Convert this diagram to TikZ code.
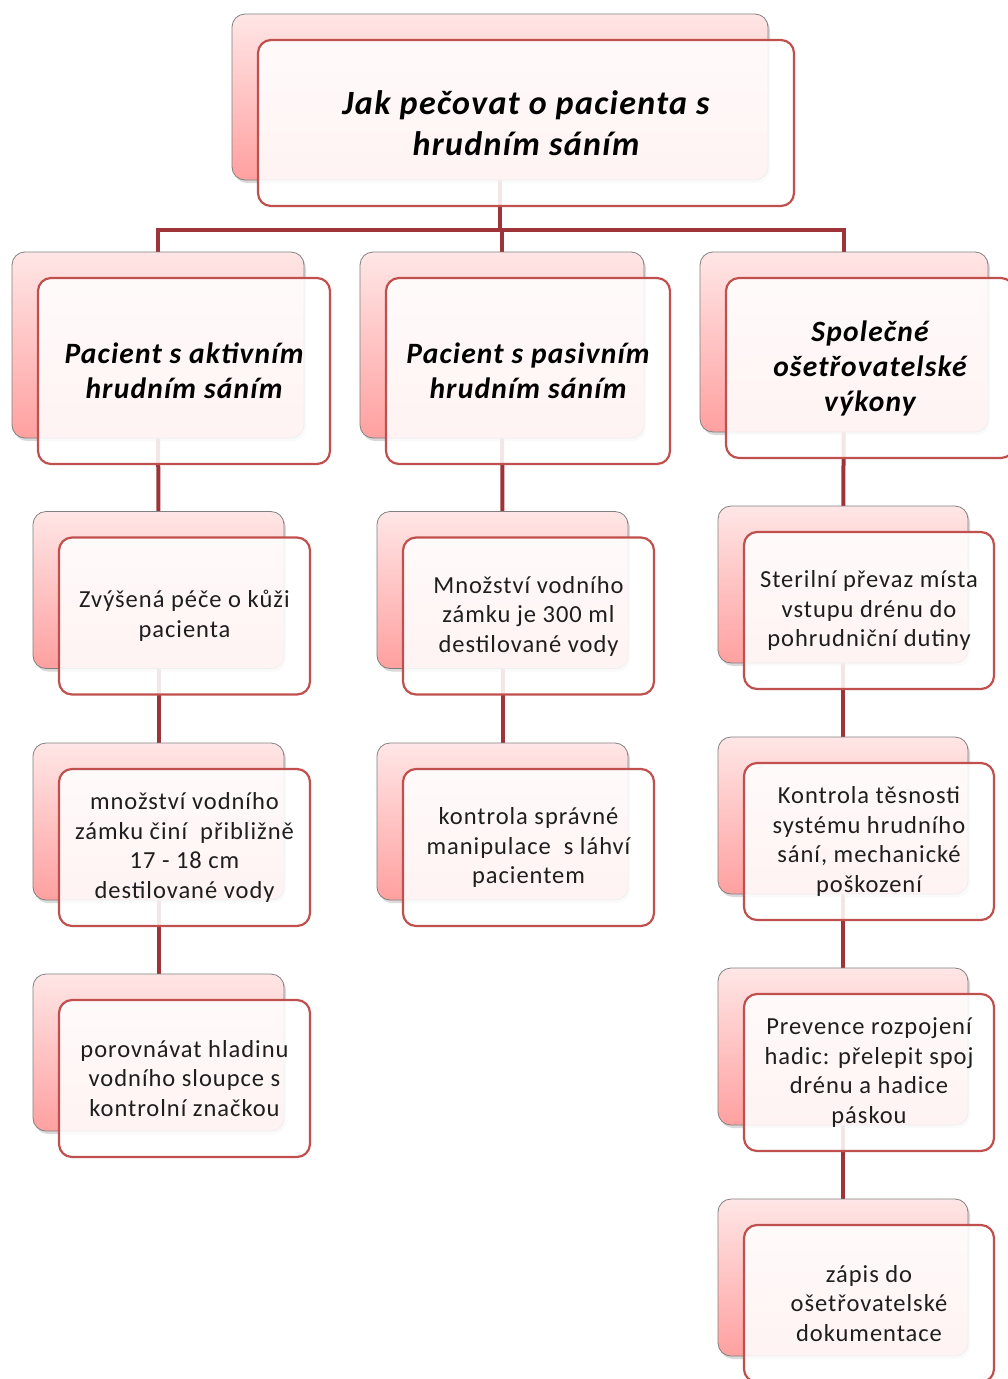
\documentclass[tikz,border=0pt]{standalone}
\usepackage{fontspec}
\setmainfont{Carlito}[LetterSpace=4]
\usetikzlibrary{shadows,backgrounds}
\definecolor{linkred}{RGB}{158,52,56}
\definecolor{frameRed}{RGB}{192,80,77}
\definecolor{pinkTop}{RGB}{255,230,230}
\definecolor{pinkBot}{RGB}{255,160,160}
\definecolor{txt}{RGB}{30,30,30}

% a pink back card with a framed, translucent card laid over it
\newcommand{\twin}[7]{%
  \node[backbox, minimum width=#5pt, minimum height=#6pt] (b#1) at (#3,#4) {};
  \node[frontbox, #2, minimum width=#5pt, minimum height=#6pt]
    (f#1) at ([shift={(26,26)}]b#1.center) {#7};}

\begin{document}
\begin{tikzpicture}[x=1pt,y=-1pt,
  backbox/.style={rounded corners=13pt, draw=black!50, line width=0.8pt,
    top color=pinkTop, bottom color=pinkBot,
    drop shadow={shadow xshift=2pt, shadow yshift=-3pt, opacity=0.3}},
  frontbox/.style={rounded corners=13pt, draw=frameRed, line width=2.2pt,
    fill=white, fill opacity=0.88, text opacity=1, text=txt,
    align=center, inner sep=0pt},
  lvlA/.style={font=\fontsize{34}{41}\selectfont\bfseries\itshape, text=black},
  lvlB/.style={font=\fontsize{29.5}{35}\selectfont\bfseries\itshape, text=black},
  lvlC/.style={font=\fontsize{24.5}{29.5}\selectfont},
  link/.style={draw=linkred, line width=4pt}]
\useasboundingbox (0,0) rectangle (1008,1379);

% root
\twin{0}{lvlA}{500}{97}{536}{166}{Jak pečovat o pacienta s\\hrudním sáním}

% second level
\twin{1}{lvlB}{158}{345}{292}{186}{Pacient s aktivním\\hrudním sáním}
\twin{2}{lvlB}{502}{345}{284}{186}{Pacient s pasivním\\hrudním sáním}
\twin{3}{lvlB}{844}{342}{288}{180}{Společné\\ošetřovatelské\\výkony}

% left column
\twin{11}{lvlC}{158.5}{590}{251}{157}{Zvýšená péče o kůži\\pacienta}
\twin{12}{lvlC}{158.5}{821.5}{251}{157}{množství vodního\\zámku činí\ \ přibližně\\17 - 18 cm\\destilované vody}
\twin{13}{lvlC}{158.5}{1052.5}{251}{157}{porovnávat hladinu\\vodního sloupce s\\kontrolní značkou}

% middle column
\twin{21}{lvlC}{502.5}{590}{251}{157}{Množství vodního\\zámku je 300 ml\\destilované vody}
\twin{22}{lvlC}{502.5}{821.5}{251}{157}{kontrola správné\\manipulace\ \ s láhví\\pacientem}

% right column
\twin{31}{lvlC}{843}{584.5}{250}{157}{Sterilní převaz místa\\vstupu drénu do\\pohrudniční dutiny}
\twin{32}{lvlC}{843}{815.5}{250}{157}{Kontrola těsnosti\\systému hrudního\\sání, mechanické\\poškození}
\twin{33}{lvlC}{843}{1046.5}{250}{157}{Prevence rozpojení\\hadic: přelepit spoj\\drénu a hadice\\páskou}
\twin{34}{lvlC}{843}{1277.5}{250}{157}{zápis do\\ošetřovatelské\\dokumentace}

\coordinate (bus) at (0,230);

\begin{scope}[on background layer]
  \draw[link] (b0.center) -- (b0.center |- bus) -| (b1.center);
  \draw[link] (b0.center |- bus) -| (b2.center);
  \draw[link] (b0.center |- bus) -| (b3.center);
  \draw[link] (b1.center) -- (b11.center);
  \draw[link] (b11.center) -- (b12.center);
  \draw[link] (b12.center) -- (b13.center);
  \draw[link] (b2.center) -- (b21.center);
  \draw[link] (b21.center) -- (b22.center);
  \draw[link] (b3.center) -- (b31.center);
  \draw[link] (b31.center) -- (b32.center);
  \draw[link] (b32.center) -- (b33.center);
  \draw[link] (b33.center) -- (b34.center);
\end{scope}
\end{tikzpicture}
\end{document}
